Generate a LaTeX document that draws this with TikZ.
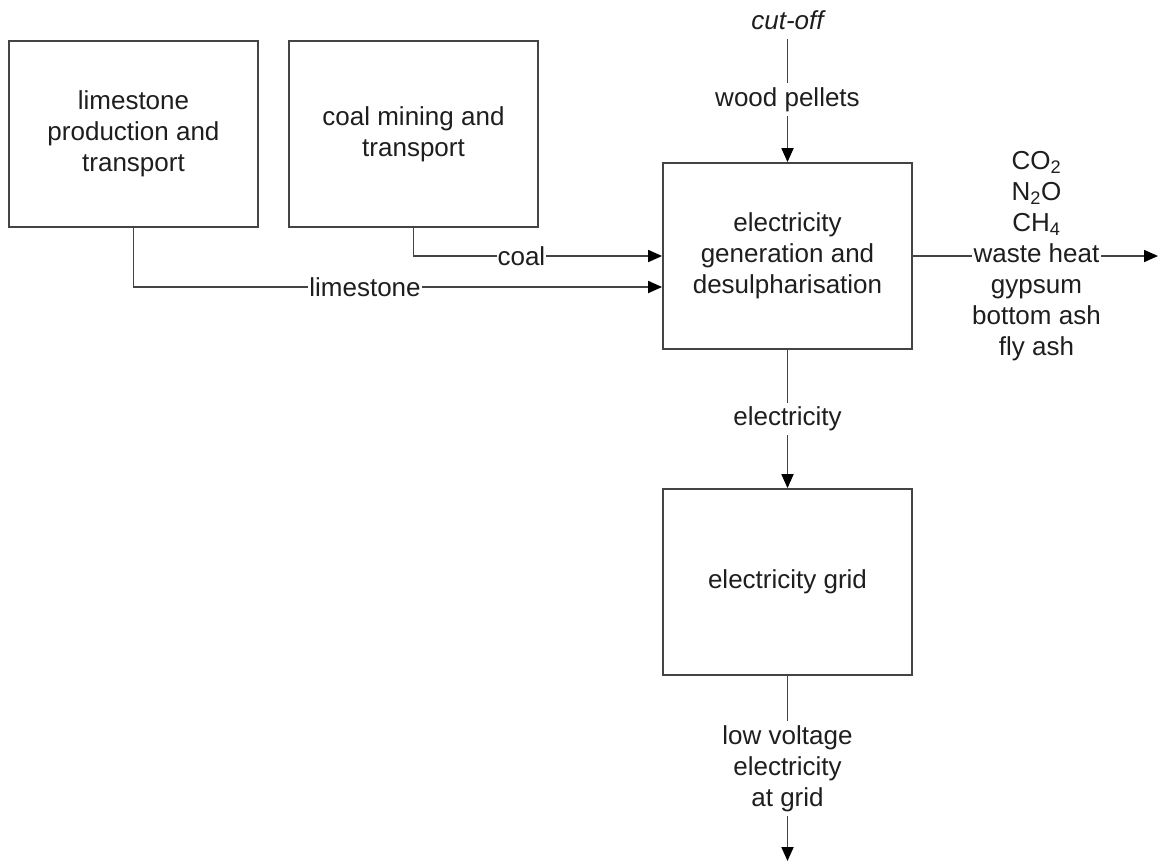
\documentclass[tikz,border=0pt]{standalone}
\usepackage{fontspec}
\setmainfont{Liberation Sans}
\usetikzlibrary{arrows.meta}
\definecolor{linegray}{HTML}{444444}
\definecolor{textgray}{HTML}{1E1E1E}
\begin{document}
\begin{tikzpicture}[x=1pt,y=-1pt,
  every node/.style={font=\fontsize{26}{31}\selectfont, text=textgray},
  box/.style={draw=linegray, line width=1.8pt, minimum width=249pt,
    minimum height=186pt, align=center, inner sep=0pt},
  flow/.style={draw=linegray, line width=1.8pt,
    -{Triangle[length=14pt,width=12pt,color=black]}},
  lbl/.style={fill=white, inner xsep=1pt, inner ysep=4pt, align=center}]
\useasboundingbox (0,0) rectangle (1159,863);

% process boxes
\node[box] (lime) at (133.5,134) {limestone\\production and\\transport};
\node[box] (coal) at (413.5,134) {coal mining and\\transport};
\node[box] (gen) at (787.5,256) {electricity\\generation and\\desulpharisation};
\node[box] (grid) at (787.5,582) {electricity grid};

% system boundary marker
\node[font=\fontsize{26}{31}\selectfont\itshape, inner sep=0pt, outer sep=0pt,
  anchor=base] (cut) at (787.5,29) {cut-off};

% free ends of the outgoing flows
\coordinate (out) at (1158,256);
\coordinate (lv) at (787.5,861);

% flows
\draw[flow] ([yshift=-10pt]cut.south) -- node[lbl, pos=0.49] {wood pellets} (gen.north);
\draw[flow] (coal.south) |- node[lbl, pos=0.717] {coal} (gen.west);
\draw[flow] (lime.south) |- node[lbl, pos=0.719] {limestone} ([yshift=-31pt]gen.west);
\draw[flow] (gen.south) -- node[lbl, pos=0.5] {electricity} (grid.north);
\draw[flow] (gen.east) -- node[lbl, pos=0.504, inner xsep=0pt]
  {CO\textsubscript{2}\\N\textsubscript{2}O\\CH\textsubscript{4}\\waste heat\\gypsum\\bottom ash\\fly ash} (out);
\draw[flow] (grid.south) -- node[lbl, pos=0.5] {low voltage\\electricity\\at grid} (lv);
\end{tikzpicture}
\end{document}
